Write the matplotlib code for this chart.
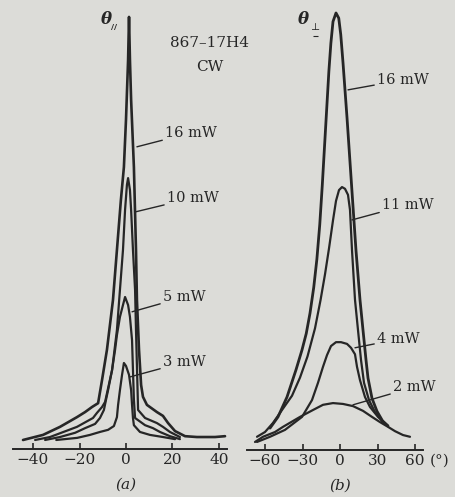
import matplotlib
matplotlib.use("Agg")
import matplotlib.pyplot as plt

# ---------------------------------------------------------------------------
# Data (angle in degrees, relative intensity, 16 mW peak = 100)
# ---------------------------------------------------------------------------

# (a) theta parallel
a16_deg = [-44.3, -35.7, -28.4, -21.1, -17.6, -14.6, -12.0, -10.3, -8.2, -5.6, -3.9,
           -2.2, -0.9, 0.0, 0.9, 1.3, 1.7, 2.2, 3.4, 4.3, 4.7, 5.6, 6.5, 7.3, 9.0,
           13.3, 15.9, 18.1, 21.1, 25.4, 30.5, 38.3, 42.6]
a16_int = [0.0, 1.2, 3.1, 5.4, 6.6, 7.8, 8.7, 14.2, 21.3, 33.1, 44.9,
           56.7, 64.5, 75.7, 89.8, 100.0, 89.8, 80.4, 64.5, 44.9, 33.1, 21.3, 13.0, 10.2, 8.3,
           6.6, 5.7, 4.0, 2.1, 0.9, 0.7, 0.7, 0.9]

a10_deg = [-39.1, -32.7, -21.1, -14.2, -12.5, -10.3, -9.0, -6.0, -3.9, -2.6, -1.3,
           -0.4, 0.4, 0.9, 1.7, 2.2, 3.0, 3.9, 4.3, 5.2, 8.2, 13.3, 15.9, 18.9, 23.2]
a10_int = [0.0, 0.7, 3.1, 5.2, 6.4, 7.8, 9.0, 16.5, 26.0, 35.5, 44.9,
           54.4, 60.3, 61.9, 59.1, 54.4, 44.9, 35.5, 26.0, 7.1, 5.2, 4.0, 3.1, 1.9, 0.7]

a5_deg = [-34.8, -28.4, -21.9, -17.6, -13.3, -11.2, -9.5, -8.6, -7.7, -6.0, -4.7,
          -3.9, -2.6, -1.3, -0.4, 0.9, 1.7, 2.6, 3.0, 3.4, 3.9, 8.2, 11.6, 14.6, 18.9, 23.2]
a5_int = [0.0, 0.7, 1.7, 2.8, 3.8, 5.2, 7.1, 9.5, 11.8, 16.5, 21.3,
          24.8, 29.1, 31.9, 33.8, 31.9, 29.1, 23.6, 16.5, 9.5, 5.2, 3.5, 2.8, 1.9, 0.9, 0.2]

a3_deg = [-30.0, -21.0, -15.5, -11.2, -7.7, -5.2, -3.9, -3.4, -2.6, -1.7, -0.9,
          0.0, 1.3, 2.2, 2.6, 3.0, 3.4, 6.0, 10.3, 15.9, 21.1]
a3_int = [0.0, 0.5, 1.2, 1.9, 2.4, 3.3, 5.4, 8.3, 11.8, 15.4, 18.2,
          17.5, 15.4, 11.8, 8.3, 5.2, 3.5, 1.9, 1.2, 0.7, 0.2]

# (b) theta perpendicular
b16_deg = [-56.0, -49.6, -42.4, -35.2, -30.4, -27.0, -24.0, -21.0, -18.5, -16.2, -14.2,
           -12.4, -10.6, -8.9, -7.3, -5.6, -3.2, -1.0, 0.6, 2.4, 5.6, 8.0, 10.4, 12.8,
           16.0, 18.4, 20.8, 22.4, 25.6, 29.6, 34.0, 38.4]
b16_int = [3.9, 6.5, 11.1, 17.4, 22.0, 25.8, 30.5, 36.5, 43.0, 51.0, 60.0,
           69.0, 78.0, 86.5, 93.0, 98.0, 100.0, 98.8, 95.0, 88.5, 75.8, 65.5, 55.2, 45.0,
           33.6, 26.6, 19.7, 15.5, 10.8, 7.8, 5.6, 4.4]

b11_deg = [-66.4, -60.0, -53.6, -46.4, -38.4, -32.0, -26.0, -20.0, -15.6, -12.0, -8.8,
           -5.6, -3.2, -0.8, 1.6, 4.0, 6.4, 8.0, 9.6, 12.0, 14.4, 16.8, 19.2, 23.2,
           28.0, 33.6, 38.4]
b11_int = [1.9, 3.0, 5.1, 8.1, 11.4, 15.6, 20.5, 27.0, 33.5, 39.5, 45.5,
           52.0, 56.5, 59.0, 59.7, 59.3, 57.9, 54.4, 45.1, 33.6, 26.6, 19.7, 14.4, 10.4,
           7.6, 5.6, 4.4]

b4_deg = [-66.4, -56.0, -44.0, -30.4, -22.4, -17.6, -13.6, -10.4, -7.2, -3.2, 0.8,
          5.6, 8.8, 12.0, 13.6, 16.0, 20.0, 24.0, 30.4, 38.4]
b4_int = [0.7, 1.9, 3.5, 6.5, 10.4, 14.4, 18.1, 20.8, 22.9, 23.8, 23.8,
          23.4, 22.5, 21.0, 18.1, 15.0, 11.1, 8.8, 6.5, 4.4]

b2_deg = [-68.0, -61.6, -52.0, -45.6, -32.0, -21.6, -13.6, -5.6, 2.4, 10.4, 18.4,
          25.6, 32.0, 38.4, 44.0, 50.4, 56.0]
b2_int = [0.7, 1.9, 3.0, 4.2, 6.5, 8.1, 9.3, 9.7, 9.5, 9.0, 7.9,
          6.5, 5.3, 4.2, 3.2, 2.3, 1.9]

a_ticks = [-40, -20, 0, 20, 40]
b_ticks = [-60, -30, 0, 30, 60]

# ---------------------------------------------------------------------------

PAPER = "#dcdcd8"
INK = "#262626"
FONT = "DejaVu Serif"

plt.rcParams["font.family"] = [FONT, "DejaVu Sans"]

fig = plt.figure(figsize=(4.56, 4.97), dpi=100, facecolor=PAPER)
ax_a = fig.add_axes([0.0, 48 / 497, 232 / 456, 449 / 497])
ax_b = fig.add_axes([232 / 456, 47 / 497, 224 / 456, 450 / 497])

for ax in (ax_a, ax_b):
    ax.set_facecolor("none")
    for side in ("top", "left", "right"):
        ax.spines[side].set_visible(False)
    ax.spines["bottom"].set_linewidth(1.4)
    ax.spines["bottom"].set_color(INK)
    ax.tick_params(axis="x", direction="in", length=4.5, width=1.2, colors=INK,
                   labelsize=11, pad=3)
    ax.set_yticks([])

ax_a.set_xlim(-54.2, 45.6)
ax_a.set_ylim(-2.13, 104.0)
ax_b.set_xlim(-86.4, 92.8)
ax_b.set_ylim(-1.16, 103.0)

ax_a.spines["bottom"].set_bounds(-48.6, 43.4)
ax_b.spines["bottom"].set_bounds(-74.4, 66.4)

ax_a.set_xticks(a_ticks)
ax_a.set_xticklabels([f"{t}".replace("-", "\u2212") for t in a_ticks])
ax_b.set_xticks(b_ticks)
ax_b.set_xticklabels([f"{t}".replace("-", "\u2212") for t in b_ticks])

line_kw = dict(color=INK, solid_joinstyle="round", solid_capstyle="round")
ax_a.plot(a16_deg, a16_int, lw=1.9, **line_kw)
ax_a.plot(a10_deg, a10_int, lw=1.6, **line_kw)
ax_a.plot(a5_deg, a5_int, lw=1.6, **line_kw)
ax_a.plot(a3_deg, a3_int, lw=1.6, **line_kw)

ax_b.plot(b16_deg, b16_int, lw=2.0, **line_kw)
ax_b.plot(b11_deg, b11_int, lw=1.6, **line_kw)
ax_b.plot(b4_deg, b4_int, lw=1.6, **line_kw)
ax_b.plot(b2_deg, b2_int, lw=1.6, **line_kw)

# curve labels with leader lines
lead = dict(arrowstyle="-", color=INK, lw=1.0, shrinkA=0, shrinkB=0)
lab_kw = dict(fontsize=10.5, color=INK, va="center", ha="left")


def label(ax, text, xy, xytext):
    ax.annotate(text, xy=xy, xytext=xytext, arrowprops=lead, **lab_kw)


label(ax_a, "16 mW", (4.7, 69.3), (16.8, 72.6))
label(ax_a, "10 mW", (3.9, 53.9), (17.6, 57.2))
label(ax_a, "5 mW", (2.6, 30.3), (15.9, 33.8))
label(ax_a, "3 mW", (1.7, 14.9), (15.9, 18.4))

label(ax_b, "16 mW", (6.4, 82.2), (29.6, 84.5))
label(ax_b, "11 mW", (9.6, 52.1), (33.6, 55.6))
label(ax_b, "4 mW", (12.0, 22.5), (29.6, 24.5))
label(ax_b, "2 mW", (10.4, 9.3), (42.4, 13.4))

ax_a.text(36.1, 93.9, "867\u201317H4", fontsize=11, color=INK, ha="center", va="center")
ax_a.text(36.1, 88.2, "CW", fontsize=11, color=INK, ha="center", va="center")

ax_a.text(-8.6, 99.3, "\u03b8", fontsize=12, fontweight="bold", fontstyle="italic",
          color=INK, ha="center", va="center")
ax_a.text(-5.2, 97.6, "//", fontsize=6, fontweight="bold", color=INK,
          ha="center", va="center")
ax_b.text(-29.6, 98.4, "\u03b8", fontsize=12, fontweight="bold", fontstyle="italic",
          color=INK, ha="center", va="center")
ax_b.text(-19.8, 96.6, "\u22a5", fontsize=7, color=INK, ha="center", va="center")
ax_b.hlines(94.6, -22.0, -17.6, color=INK, lw=0.8)

ax_b.text(80, -3.7, "(\u00b0)", fontsize=11, color=INK, ha="center", va="center",
          clip_on=False)

ax_a.text(0, -10.6, "(a)", fontsize=11, fontstyle="italic", color=INK,
          ha="center", va="center", clip_on=False)
ax_b.text(0, -9.3, "(b)", fontsize=11, fontstyle="italic", color=INK,
          ha="center", va="center", clip_on=False)

fig.savefig("out.png", dpi=100, facecolor=PAPER)
